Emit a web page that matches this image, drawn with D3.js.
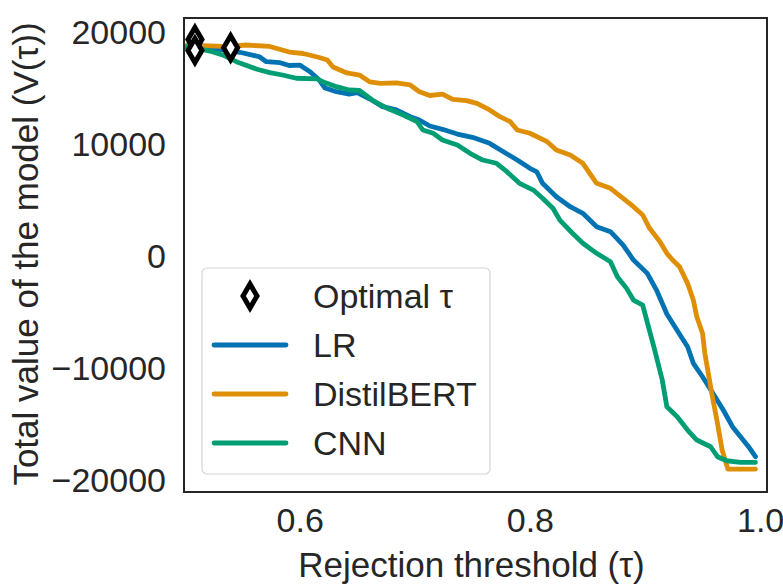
<!DOCTYPE html>
<html>
<head>
<meta charset="utf-8">
<script src="https://cdn.jsdelivr.net/npm/d3@7"></script>
<style>
  html, body { margin: 0; padding: 0; background: #fff; }
  svg { display: block; }
  text { font-family: "Liberation Sans", Arial, sans-serif; fill: #262626; }
</style>
</head>
<body>
<svg id="chart" width="783" height="586"></svg>
<script>
// Total model value V(τ) against rejection threshold τ, per model
const lrTau = [0.500, 0.504, 0.530, 0.548, 0.565, 0.571, 0.583, 0.591, 0.600, 0.609, 0.617, 0.622, 0.632, 0.643, 0.650, 0.661, 0.672, 0.684, 0.696, 0.704, 0.713, 0.724, 0.737, 0.750, 0.765, 0.777, 0.789, 0.800, 0.806, 0.811, 0.823, 0.835, 0.846, 0.858, 0.870, 0.881, 0.890, 0.902, 0.910, 0.919, 0.928, 0.937, 0.942, 0.950, 0.959, 0.968, 0.976, 0.983, 0.991, 0.996];
const lrValue = [18780, 18930, 18550, 18280, 17880, 17440, 17350, 17100, 17140, 16550, 15800, 15090, 14760, 14550, 14670, 14110, 13420, 13130, 12530, 12230, 11700, 11400, 10980, 10690, 10150, 9400, 8660, 7920, 7610, 6580, 5380, 4490, 3900, 2710, 2260, 1070, -270, -1460, -2950, -5090, -6560, -8010, -9490, -10690, -12170, -13660, -15150, -16050, -17080, -17830];

const bertTau = [0.500, 0.516, 0.539, 0.553, 0.574, 0.591, 0.603, 0.617, 0.624, 0.629, 0.641, 0.652, 0.661, 0.670, 0.684, 0.696, 0.704, 0.713, 0.724, 0.733, 0.745, 0.754, 0.765, 0.774, 0.783, 0.789, 0.800, 0.815, 0.823, 0.835, 0.846, 0.852, 0.858, 0.870, 0.881, 0.890, 0.898, 0.904, 0.913, 0.919, 0.924, 0.930, 0.937, 0.942, 0.945, 0.950, 0.952, 0.955, 0.958, 0.963, 0.967, 0.972, 0.996];
const bertValue = [18840, 18870, 18780, 18930, 18800, 18300, 18170, 17810, 17590, 16960, 16430, 16250, 15630, 15510, 15540, 15360, 14760, 14420, 14550, 14080, 13960, 13720, 13130, 12530, 12080, 11340, 11050, 10300, 9550, 9110, 8370, 7470, 6580, 6130, 5240, 4490, 3750, 2560, 1370, 330, -270, -870, -2350, -3840, -5330, -6810, -8600, -10380, -12170, -14850, -17230, -18930, -18930];

const cnnTau = [0.500, 0.504, 0.524, 0.533, 0.545, 0.563, 0.574, 0.585, 0.597, 0.615, 0.620, 0.632, 0.643, 0.652, 0.663, 0.676, 0.690, 0.702, 0.707, 0.716, 0.724, 0.737, 0.748, 0.759, 0.771, 0.780, 0.791, 0.803, 0.811, 0.820, 0.826, 0.837, 0.846, 0.858, 0.870, 0.876, 0.884, 0.890, 0.898, 0.903, 0.908, 0.915, 0.919, 0.928, 0.937, 0.945, 0.957, 0.963, 0.971, 0.983, 0.996];
const cnnValue = [18750, 18780, 18330, 18040, 17440, 16760, 16460, 16250, 15960, 15910, 15650, 15210, 14910, 14870, 14020, 13280, 12680, 12080, 11340, 11050, 10450, 10000, 9260, 8660, 8370, 7620, 6580, 5980, 5240, 4350, 3300, 2120, 1230, 330, -420, -1760, -2800, -3840, -4290, -6220, -8130, -10980, -13370, -14260, -15450, -16340, -16940, -17830, -18190, -18330, -18330];

// Optimal threshold found for each model
const optimalTau = [0.509, 0.509, 0.540];
const optimalValue = [19420, 18440, 18690];

const seriesNames = ["LR", "DistilBERT", "CNN"];
const seriesColors = ["#0173b2", "#de8f05", "#029e73"];
const xTicks = [0.6, 0.8, 1.0];
const yTicks = [-20000, -10000, 0, 10000, 20000];

const series = [
  { name: seriesNames[0], color: seriesColors[0], tau: lrTau, value: lrValue },
  { name: seriesNames[1], color: seriesColors[1], tau: bertTau, value: bertValue },
  { name: seriesNames[2], color: seriesColors[2], tau: cnnTau, value: cnnValue }
];

const svg = d3.select("#chart");
const plot = { left: 184, right: 767, top: 18, bottom: 492 };
const fontSize = 34;
const titleSize = 35;

const x = d3.scaleLinear().domain([0.4995, 1.006]).range([plot.left, plot.right]);
const y = d3.scaleLinear().domain([-20980, 21340]).range([plot.bottom, plot.top]);

// Axes: labels only, no tick marks
const xAxis = svg.append("g")
  .attr("transform", `translate(0,${plot.bottom})`)
  .call(d3.axisBottom(x).tickValues(xTicks).tickFormat(d3.format(".1f")).tickSize(0).tickPadding(16));
const yAxis = svg.append("g")
  .attr("transform", `translate(${plot.left},0)`)
  .call(d3.axisLeft(y).tickValues(yTicks).tickFormat(d3.format("d")).tickSize(0).tickPadding(18));
[xAxis, yAxis].forEach(g => {
  g.select(".domain").remove();
  g.selectAll("text").style("font-size", fontSize + "px").attr("fill", "#262626")
    .style("font-family", '"Liberation Sans", Arial, sans-serif');
});

// Curves
const line = d3.line().x(d => x(d[0])).y(d => y(d[1]));
svg.append("clipPath").attr("id", "plotClip")
  .append("rect").attr("x", plot.left).attr("y", plot.top)
  .attr("width", plot.right - plot.left).attr("height", plot.bottom - plot.top);

const curves = svg.append("g").attr("clip-path", "url(#plotClip)");
series.forEach(s => {
  curves.append("path")
    .datum(s.tau.map((t, i) => [t, s.value[i]]))
    .attr("fill", "none")
    .attr("stroke", s.color)
    .attr("stroke-width", 4.8)
    .attr("stroke-linejoin", "round")
    .attr("stroke-linecap", "round")
    .attr("d", line);
});

// Thin diamond marker
function diamond(cx, cy) {
  const h = 12, w = 7;
  return `M${cx},${cy - h}L${cx + w},${cy}L${cx},${cy + h}L${cx - w},${cy}Z`;
}
svg.append("g").selectAll("path")
  .data(optimalTau.map((t, i) => [t, optimalValue[i]]))
  .join("path")
  .attr("d", d => diamond(x(d[0]), y(d[1])))
  .attr("fill", "#fff")
  .attr("stroke", "#000")
  .attr("stroke-width", 5)
  .attr("stroke-linejoin", "miter")
  .attr("stroke-miterlimit", 10);

// Frame
svg.append("rect")
  .attr("x", plot.left).attr("y", plot.top)
  .attr("width", plot.right - plot.left).attr("height", plot.bottom - plot.top)
  .attr("fill", "none").attr("stroke", "#262626").attr("stroke-width", 2);

// Legend
const legend = svg.append("g");
legend.append("rect")
  .attr("x", 202).attr("y", 268).attr("width", 288).attr("height", 206).attr("rx", 5)
  .attr("fill", "#fff").attr("fill-opacity", 0.8)
  .attr("stroke", "#d6d6d6").attr("stroke-width", 1.2);
const rowY = [296, 345, 394, 443];
legend.append("path").attr("d", diamond(250, rowY[0]))
  .attr("fill", "#fff").attr("stroke", "#000").attr("stroke-width", 5)
  .attr("stroke-miterlimit", 10);
legend.append("text").attr("x", 313).attr("y", rowY[0]).attr("dy", "0.35em")
  .style("font-size", fontSize + "px").text("Optimal τ");
series.forEach((s, i) => {
  legend.append("line")
    .attr("x1", 214).attr("x2", 286).attr("y1", rowY[i + 1]).attr("y2", rowY[i + 1])
    .attr("stroke", s.color).attr("stroke-width", 4.8).attr("stroke-linecap", "round");
  legend.append("text").attr("x", 313).attr("y", rowY[i + 1]).attr("dy", "0.35em")
    .style("font-size", fontSize + "px").text(s.name);
});

// Axis titles
svg.append("text")
  .attr("x", (plot.left + plot.right) / 2 - 4).attr("y", 577)
  .attr("text-anchor", "middle").style("font-size", titleSize + "px")
  .text("Rejection threshold (τ)");
svg.append("text")
  .attr("transform", `translate(38,${(plot.top + plot.bottom) / 2 - 1}) rotate(-90)`)
  .attr("text-anchor", "middle").style("font-size", titleSize + "px")
  .text("Total value of the model (V(τ))");
</script>
</body>
</html>
